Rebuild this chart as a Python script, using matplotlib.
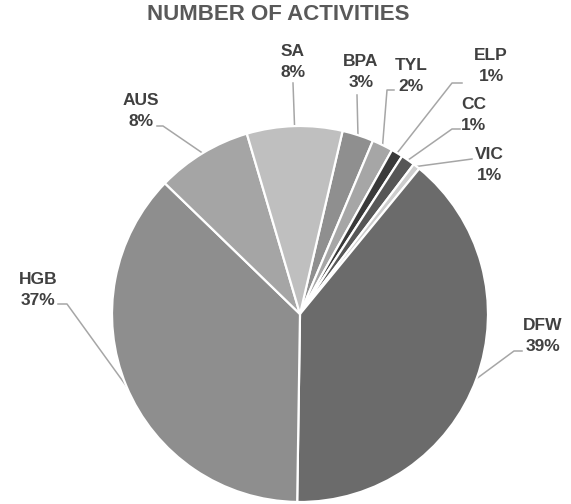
import numpy as np
import matplotlib
matplotlib.use('Agg')
import matplotlib.pyplot as plt

plt.rcParams['font.family'] = ['Liberation Sans', 'DejaVu Sans']

# ── data (clockwise from the top) ──────────────────────────────
labels = ['BPA', 'TYL', 'ELP', 'CC', 'VIC', 'DFW', 'HGB', 'AUS', 'SA']
shares = [2.7, 1.8, 1.0, 1.2, 0.6, 39.3, 37.0, 8.2, 8.2]
pct_text = ['3%', '2%', '1%', '1%', '1%', '39%', '37%', '8%', '8%']
colors = ['#8f8f8f', '#a6a6a6', '#3a3a3a', '#575757', '#cdcdcd',
          '#6b6b6b', '#8e8e8e', '#a5a5a5', '#bfbfbf']

# ── layout (pixel coords, y measured from top) ─────────────────
W, H = 571, 504
CX, CY, R = 300, 314, 188
START = 90 - 13.1
# label centre, leader elbow, leader tail (None = no tail)
lab_pos = [(361, 72), (411, 76), (491, 66), (474, 115), (489, 165),
           (543, 336), (38, 290), (141, 111), (293, 62)]
elbow = [(357, 95), (387, 90), (452, 83), (452, 129), (472, 159),
         (514, 351), (67, 304), (163, 126), (293, 83)]
tail = [None, (394, 90), (462, 83), (460, 129), None,
        (522, 351), (58, 304), (157, 126), None]

TXT = '#404040'
LINE = '#a6a6a6'

fig = plt.figure(figsize=(W / 100, H / 100), dpi=100)
ax = fig.add_axes([0, 0, 1, 1])

wedges, _ = ax.pie(shares, colors=colors, startangle=START,
                   counterclock=False, center=(CX, H - CY), radius=R,
                   wedgeprops=dict(edgecolor='white', linewidth=1.6),
                   frame=True)
ax.set_xlim(0, W)
ax.set_ylim(0, H)
ax.set_aspect('equal')
ax.axis('off')

for w, name, pct, (tx, ty), el, tl in zip(wedges, labels, pct_text,
                                          lab_pos, elbow, tail):
    mid = np.deg2rad((w.theta1 + w.theta2) / 2)
    ex = CX + R * np.cos(mid)
    ey = (H - CY) + R * np.sin(mid)
    xs = [ex, el[0]]
    ys = [ey, H - el[1]]
    if tl is not None:
        xs.append(tl[0])
        ys.append(H - tl[1])
    ax.plot(xs, ys, color=LINE, lw=1.1, zorder=0.5)
    ax.text(tx, H - ty, f'{name}\n{pct}', ha='center', va='center',
            fontsize=12.5, fontweight='bold', color=TXT, linespacing=1.45)

fig.text(278 / W, 1 - 15 / H, 'NUMBER OF ACTIVITIES', ha='center',
         va='center', fontsize=16, fontweight='bold', color='#595959')

fig.savefig('out.png', dpi=100, facecolor='white')
